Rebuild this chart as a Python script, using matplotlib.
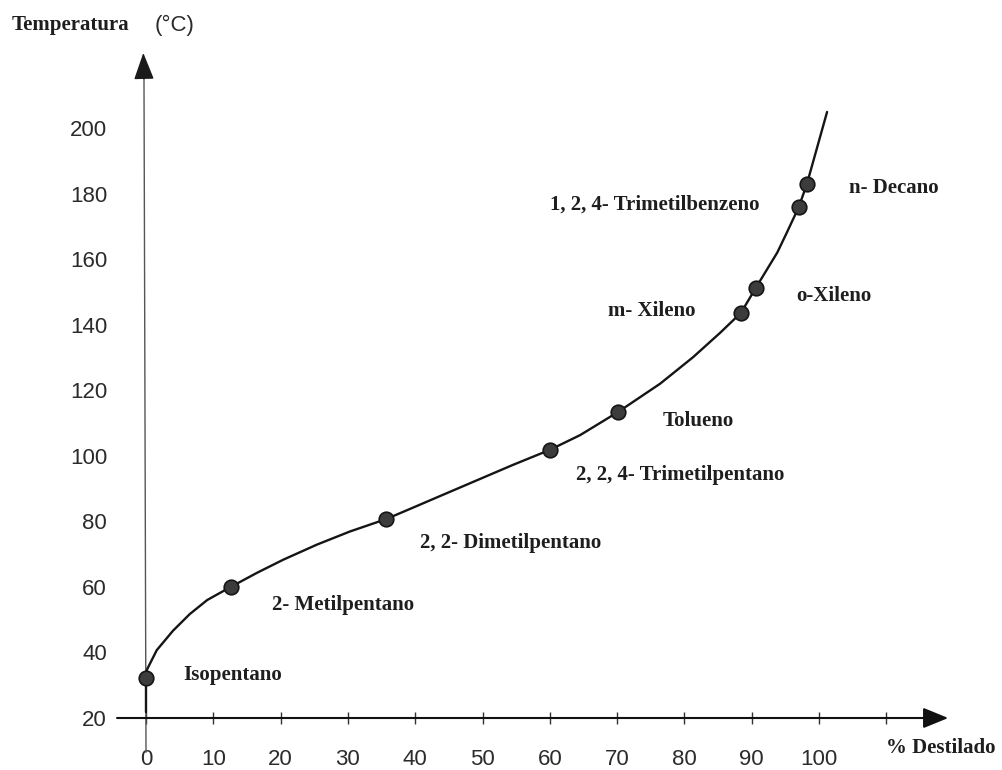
import matplotlib
matplotlib.use("Agg")
import matplotlib.pyplot as plt

# distillation curve, % distilled vs temperature
curve_pct = [0, 0, 0, 0.15, 1.6, 4.0, 6.5, 9.1, 12.6, 16.5, 20.4, 25.4, 30.3,
             35.7, 39.7, 44.7, 49.6, 54.5, 60.0, 64.5, 70.1, 76.4, 81.3, 85.3,
             88.4, 90.6, 93.8, 95.2, 97.0, 98.2, 99.7, 101.2]
curve_temp = [21.8, 28.5, 32.2, 34.8, 40.7, 46.6, 51.7, 56.0, 60.0, 64.3, 68.3,
              72.9, 76.9, 80.7, 84.2, 88.6, 92.9, 97.2, 101.8, 106.3, 113.3,
              122.0, 130.1, 137.5, 143.6, 151.2, 162.0, 168.0, 175.9, 182.9,
              193.9, 204.9]

# components marked on the curve
compounds = ["Isopentano", "2- Metilpentano", "2, 2- Dimetilpentano",
             "2, 2, 4- Trimetilpentano", "Tolueno", "m- Xileno", "o-Xileno",
             "1, 2, 4- Trimetilbenzeno", "n- Decano"]
comp_pct = [0, 12.6, 35.7, 60.0, 70.1, 88.4, 90.6, 97.0, 98.2]
comp_temp = [32.2, 60.0, 80.7, 101.8, 113.3, 143.6, 151.2, 175.9, 182.9]

x_ticks = [0, 10, 20, 30, 40, 50, 60, 70, 80, 90, 100, 110]
x_labels = ["0", "10", "20", "30", "40", "50", "60", "70", "80", "90", "100", ""]
y_ticks = [20, 40, 60, 80, 100, 120, 140, 160, 180, 200]

# label offsets in points from each marker, and horizontal alignment
offsets = [(27, 2, "left"), (30, -13, "left"), (24, -17, "left"),
           (19, -18, "left"), (32, -6, "left"), (-33, 1, "right"),
           (29, -6, "left"), (-28, 2, "right"), (30, -3, "left")]

W, H = 1003, 770
fig = plt.figure(figsize=(W / 100, H / 100), dpi=100)
ax = fig.add_axes([0, 0, 1, 1])

# pixel -> data mapping: x=0 at px 146, x=100 at px 819; y=20 at px 718, y=200 at px 128
sx = (819 - 146) / 100.0
sy = (718 - 128) / 180.0
ax.set_xlim((0 - 146) / sx, (W - 146) / sx)
ax.set_ylim(20 - (H - 718) / sy, 20 + 718 / sy)

for s in ax.spines.values():
    s.set_visible(False)
ax.spines["bottom"].set_position(("data", 20))
ax.spines["left"].set_position(("data", 0))

serif = ["Liberation Serif", "DejaVu Serif"]
sans = ["Liberation Sans", "DejaVu Sans"]
tick_col = "#2b2b2b"

ax.set_xticks(x_ticks, labels=x_labels)
ax.set_yticks(y_ticks, labels=[str(v) for v in y_ticks])
ax.tick_params(axis="x", direction="inout", length=9, width=1.0, color="#333333",
               pad=18, labelsize=16, labelcolor=tick_col)
ax.tick_params(axis="y", length=0, pad=28, labelsize=16, labelcolor=tick_col)
for lab in ax.get_xticklabels() + ax.get_yticklabels():
    lab.set_family(sans)

# horizontal axis with arrow head
ax.annotate("", xy=(119.2, 20), xytext=(-4.3, 20),
            arrowprops=dict(arrowstyle="-|>,head_length=1.1,head_width=0.45",
                            color="#111111", lw=1.5, shrinkA=0, shrinkB=0,
                            mutation_scale=14))
# vertical axis: thin grey line, dark head
ax.plot([0, -0.3], [9.6, 216], color="#555555", lw=1.0, zorder=2)
ax.annotate("", xy=(-0.4, 222.9), xytext=(-0.3, 215),
            arrowprops=dict(arrowstyle="-|>,head_length=1.2,head_width=0.45",
                            color="#1a1a1a", lw=1.0, shrinkA=0, shrinkB=0,
                            mutation_scale=14))

# curve and components
ax.plot(curve_pct, curve_temp, color="#151515", lw=1.7, solid_capstyle="round",
        solid_joinstyle="round", zorder=3)
ax.plot(comp_pct, comp_temp, "o", ms=10.5, mfc="#3c3c3c", mec="#151515",
        mew=1.2, zorder=4)

for name, x, y, (dx, dy, ha) in zip(compounds, comp_pct, comp_temp, offsets):
    ax.annotate(name, xy=(x, y), xytext=(dx, dy), textcoords="offset points",
                ha=ha, va="center", fontsize=15, fontweight="bold",
                family=serif, color="#1e1e1e")

# axis titles
fig.text(12 / W, 1 - 25 / H, "Temperatura", ha="left", va="center",
         fontsize=15, fontweight="bold", family=serif, color="#1e1e1e")
fig.text(155 / W, 1 - 25 / H, "(°C)", ha="left", va="center",
         fontsize=16, family=sans, color=tick_col)
fig.text(886 / W, 1 - 748 / H, "% Destilado", ha="left", va="center",
         fontsize=15, fontweight="bold", family=serif, color="#1e1e1e")

fig.savefig("out.png", dpi=100, facecolor="white")
